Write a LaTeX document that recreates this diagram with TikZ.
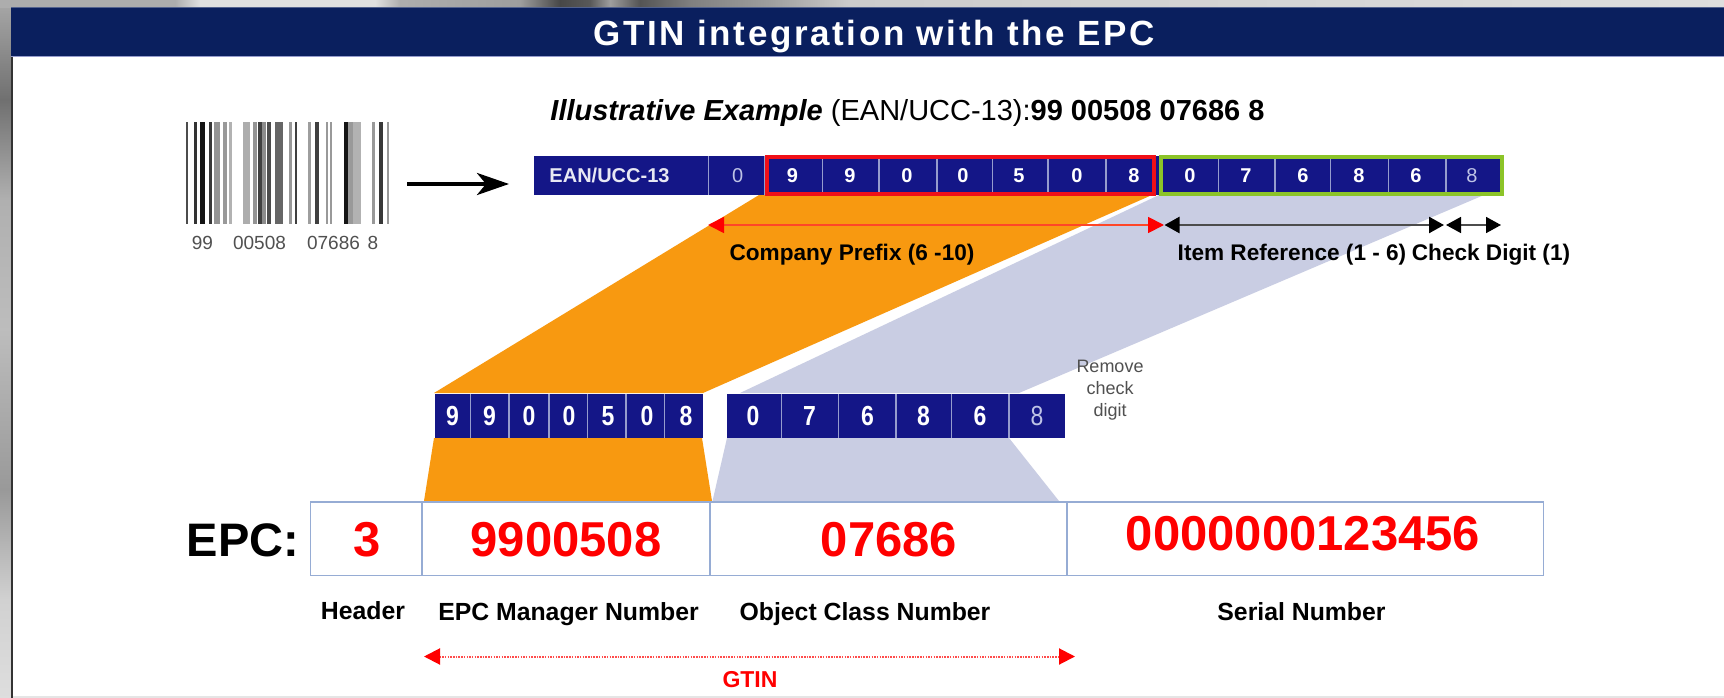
\documentclass[tikz,border=0pt]{standalone}
\usepackage{fontspec}
\setmainfont{Liberation Sans}
\usetikzlibrary{arrows.meta,calc}
\definecolor{navy}{RGB}{10,31,94}
\definecolor{cellblue}{RGB}{20,22,135}
\definecolor{celldiv}{RGB}{150,156,205}
\definecolor{fadedtxt}{RGB}{190,195,230}
\definecolor{orangeband}{RGB}{248,153,16}
\definecolor{lavband}{RGB}{201,205,227}
\definecolor{boxline}{RGB}{150,172,212}
\definecolor{greenbox}{RGB}{140,196,40}
\definecolor{redline}{RGB}{255,70,40}
\definecolor{redbox}{RGB}{240,16,24}
\definecolor{txtgray}{RGB}{80,80,80}
\tikzset{
  x=1pt,y=-1pt,
  every node/.style={inner sep=0pt,outer sep=0pt},
  fsize/.style={font=\fontsize{#1}{#1}\selectfont},
  bfsize/.style={font=\fontsize{#1}{#1}\selectfont\bfseries},
  cell/.style={bfsize=20,text=white,anchor=center},
  fadedcell/.style={fsize=20,text=fadedtxt,anchor=center},
  lowcell/.style={bfsize=23,text=white,anchor=center,yscale=1.2,transform shape},
  lowfaded/.style={fsize=23,text=fadedtxt,anchor=center,yscale=1.2,transform shape},
  divline/.style={draw=celldiv,line width=1.1pt},
  epcdigit/.style={bfsize=49,text=red,anchor=center},
  lab/.style={bfsize=24.8,text=black,anchor=center},
  smallb/.style={bfsize=22.6,text=black,anchor=center},
  redarrow/.style={{Triangle[length=16pt,width=16pt,red]}-{Triangle[length=16pt,width=16pt,red]}},
  blackarrow/.style={{Triangle[length=15pt,width=16pt,black]}-{Triangle[length=15pt,width=16pt,black]},draw=black!70,line width=2.4pt},
}
\begin{document}
\begin{tikzpicture}
\useasboundingbox (0,0) rectangle (1724,698);
\fill[white] (0,0) rectangle (1724,698);
% left strip
\foreach \ya/\yb/\ca/\cb in {0/100/66/44,100/200/44/69,200/330/69/74,330/490/74/60,490/600/60/82,600/698/82/87}
  {\shade[top color=white!\ca!black,bottom color=white!\cb!black] (0,\ya) rectangle (11,\yb);}
% top strip
\foreach \xa/\xb/\ca/\cb in {0/175/68/68,175/200/68/88,200/375/88/88,375/400/88/68,400/520/68/62,520/560/62/28,560/590/28/35,590/610/35/62,610/640/62/33,640/690/33/50,690/770/50/62,770/850/62/80,850/1724/80/87}
  {\shade[left color=white!\ca!black,right color=white!\cb!black] (\xa,0) rectangle (\xb,8);}
\draw[black!80,line width=2pt] (12,56) -- (12,698);
\fill[black!10] (13,696) rectangle (1724,698);
% title band
\fill[navy] (11,8) rectangle (1724,56);
\draw[navy!70!white,line width=1pt] (11,8) -- (1724,8);
\draw[celldiv,line width=1.2pt] (11,56.5) -- (1724,56.5);
\node[bfsize=35,text=white] (title) at (874,37) {\addfontfeature{LetterSpace=7.5}GTIN integration with the EPC};
\node[fsize=29,text=black] (example) at (907.5,113) {\textbf{\textit{Illustrative Example}} (EAN/UCC-13):\textbf{99 00508 07686 8}};
% barcode
\foreach \a/\b/\s in {186/188/70,194/197/80,200/205/92,209/212/78,214/220/42,223/227/40,229/232/30,
 243/250/32,253/257/42,258/262/75,262/266/45,267/271/70,275/283/60,289/292/40,295/297/75,
 308/311/38,315/319/75,326/328/40,330/332/40,
 344/348/92,348/353/40,353/361/30,
 372/375/40,379/383/78,387/389/40}
  {\fill[black!\s] (\a,122) rectangle (\b,224);}
\node[fsize=19,text=txtgray] (bc1) at (202.5,243) {99};
\node[fsize=19,text=txtgray] (bc2) at (259.5,243) {00508};
\node[fsize=19,text=txtgray] (bc3) at (333.5,243) {07686};
\node[fsize=19,text=txtgray] (bc4) at (373,243) {8};
\coordinate (arrowA) at (407,184);
\coordinate (arrowB) at (509,184);
\draw[black,line width=4pt,-{Stealth[length=32pt,width=22pt,inset=9pt]}] (arrowA) -- (arrowB);
% bands
\fill[orangeband] (759,195) -- (1152,195) -- (703,393) -- (434,393) -- cycle;
\fill[lavband] (1159,195) -- (1484,195) -- (1019,393) -- (740,393) -- cycle;
\fill[orangeband] (434,438) -- (702,438) -- (712,501) -- (424,501) -- cycle;
\fill[lavband] (727,438) -- (1009,438) -- (1059,501) -- (712.5,501) -- cycle;
% top bar
\fill[cellblue] (533.5,156) rectangle (1502,194.5);
\foreach \x in {708.7,765,822.3,879,937,992.6,1048,1106,1218.6,1275,1330.8,1388.5,1446}
  {\draw[divline] (\x,156) -- (\x,194.5);}
\node[bfsize=20,text=white!90!cellblue] (ean) at (609.5,175.5) {EAN/UCC-13};
\node[fadedcell] (d0) at (737.7,175.5) {0};
\foreach \n/\x/\t in {a/792.5/9,b/850/9,c/907/0,d/963/0,e/1019/5,f/1077/0,g/1134/8,h/1190/0,i/1246/7,j/1303/6,k/1359/8,l/1416/6}
  {\node[cell] (t\n) at (\x,175.5) {\t};}
\node[fadedcell] (tm) at (1472,175.5) {8};
\draw[redbox,line width=4pt] (767,157.5) rectangle (1154,194);
\draw[greenbox,line width=4pt] (1161,157.5) rectangle (1502,194);
% range arrows
\coordinate (cpL) at (708,225);
\coordinate (cpR) at (1164,225);
\draw[redarrow,draw=redline,line width=1.8pt] (cpL) -- (cpR);
\coordinate (irL) at (1164.5,225);
\coordinate (irR) at (1444,225);
\coordinate (cdL) at (1446,225);
\coordinate (cdR) at (1501,225);
\draw[blackarrow] (irL) -- (irR);
\draw[blackarrow,line width=1.6pt] (cdL) -- (cdR);
\node[smallb] (cp) at (852,254.5) {Company Prefix (6 -10)};
\node[smallb] (ir) at (1292,254.5) {Item Reference (1 - 6)};
\node[smallb] (cd) at (1491,254.5) {Check Digit (1)};
% lower digit groups
\fill[cellblue] (434.5,393.5) rectangle (702.5,438);
\fill[cellblue] (727,393.5) rectangle (1065,438);
\foreach \x in {470.8,509,549,587.6,626,664.6,781.8,838.8,896,951.7,1009}
  {\draw[divline] (\x,393.5) -- (\x,438);}
\foreach \n/\x/\t in {a/452.5/9,b/489.5/9,c/529/0,d/569/0,e/608/5,f/647/0,g/686/8,h/753/0,i/809.5/7,j/867.5/6,k/923.5/8,l/980/6}
  {\node[lowcell] (l\n) at (\x,416) {\t};}
\node[lowfaded] (lm) at (1037,416) {8};
\node[fsize=18,text=txtgray,align=center] (rm) at (1110,390.5) {Remove\\[4pt]check\\[4pt]digit};
% EPC
\node[bfsize=47,text=black] (epc) at (243,540.5) {EPC:};
\draw[boxline,line width=1.9pt] (310.5,502) rectangle (1543.5,575.5);
\draw[boxline,line width=1.9pt] (422,502) -- (422,575.5);
\draw[boxline,line width=1.5pt] (710,502) -- (710,575.5);
\draw[boxline,line width=1.5pt] (1067,502) -- (1067,575.5);
\node[epcdigit] (e1) at (366.7,540) {3};
\node[epcdigit] (e2) at (566,540) {9900508};
\node[epcdigit] (e3) at (889,540) {07686};
\node[epcdigit] (e4) at (1303,534) {0000000123456};
\node[lab] (n1) at (363,611) {Header};
\node[lab] (n2) at (568.5,614) {EPC Manager Number};
\node[lab] (n3) at (865,614) {Object Class Number};
\node[lab] (n4) at (1301.5,612) {Serial Number};
\coordinate (gtL) at (424,656.5);
\coordinate (gtR) at (1075,656.5);
\draw[redarrow,draw=red!70,line width=2pt,dash pattern=on 1.5pt off 1.2pt] (gtL) -- (gtR);
\node[bfsize=23,text=red] (gtin) at (750,680) {GTIN};
\end{tikzpicture}
\end{document}
